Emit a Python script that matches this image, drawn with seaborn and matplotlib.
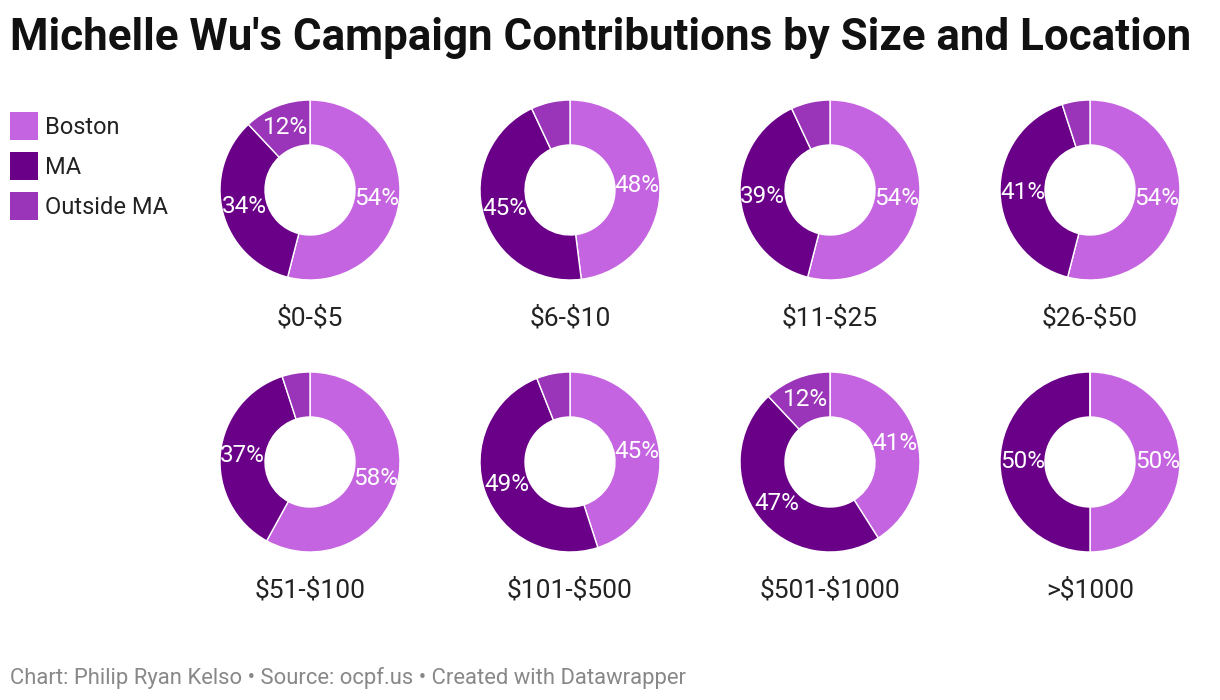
import matplotlib
matplotlib.use('Agg')
import matplotlib.pyplot as plt
import matplotlib.patches as mpatches
import seaborn as sns

# 数据
size_groups = ['$0-$5', '$6-$10', '$11-$25', '$26-$50',
               '$51-$100', '$101-$500', '$501-$1000', '>$1000']
locations = ['Boston', 'MA', 'Outside MA']
boston = [54, 48, 54, 54, 58, 45, 41, 50]
ma = [34, 45, 39, 41, 37, 49, 47, 50]
outside_ma = [12, 7, 7, 5, 5, 6, 12, 0]

sns.set_theme(style='white')
plt.rcParams['font.family'] = ['Roboto', 'DejaVu Sans']
plt.rcParams['text.parse_math'] = False
colors = sns.color_palette(['#c564e0', '#6a0088', '#9a34b8'])

W, H = 1220, 700
fig = plt.figure(figsize=(W / 100, H / 100), dpi=100)
fig.patch.set_facecolor('white')

R = 90
centers_x = [310, 570, 830, 1090]
centers_y = [190, 462]


def fmt(p):
    return f'{p:.0f}%' if p >= 9.5 else ''


for i, grp in enumerate(size_groups):
    cx = centers_x[i % 4]
    cy = centers_y[i // 4]
    ax = fig.add_axes([(cx - R) / W, 1 - (cy + R) / H, 2 * R / W, 2 * R / H])
    vals = [boston[i], ma[i], outside_ma[i]]
    ax.pie(vals, colors=colors, startangle=90, counterclock=False, radius=1,
           wedgeprops=dict(width=0.5, edgecolor='white', linewidth=1),
           autopct=fmt, pctdistance=0.75,
           textprops=dict(color='white', fontsize=17.5))
    ax.set_xlim(-1, 1)
    ax.set_ylim(-1, 1)
    ax.set_aspect('equal')
    ax.axis('off')
    fig.text(cx / W, 1 - (cy + 128) / H, grp, ha='center', va='center',
             fontsize=19, color='#222222', parse_math=False)

# 标题
fig.text(10 / W, 1 - 38 / H, "Michelle Wu's Campaign Contributions by Size and Location",
         ha='left', va='center', fontsize=31.6, fontweight='bold', color='#111111')

# 图例
for j, loc in enumerate(locations):
    y = 126 + j * 40
    fig.patches.append(mpatches.Rectangle((10 / W, 1 - (y + 14) / H), 28 / W, 28 / H,
                                          transform=fig.transFigure, facecolor=colors[j],
                                          edgecolor='none'))
    fig.text(45 / W, 1 - (y + 2) / H, loc, ha='left', va='center', fontsize=17, color='#222222')

# 脚注
fig.text(10 / W, 1 - 678 / H,
         'Chart: Philip Ryan Kelso \u2022 Source: ocpf.us \u2022 Created with Datawrapper',
         ha='left', va='center', fontsize=15.8, color='#888888')

fig.savefig('out.png', dpi=100, facecolor='white')
